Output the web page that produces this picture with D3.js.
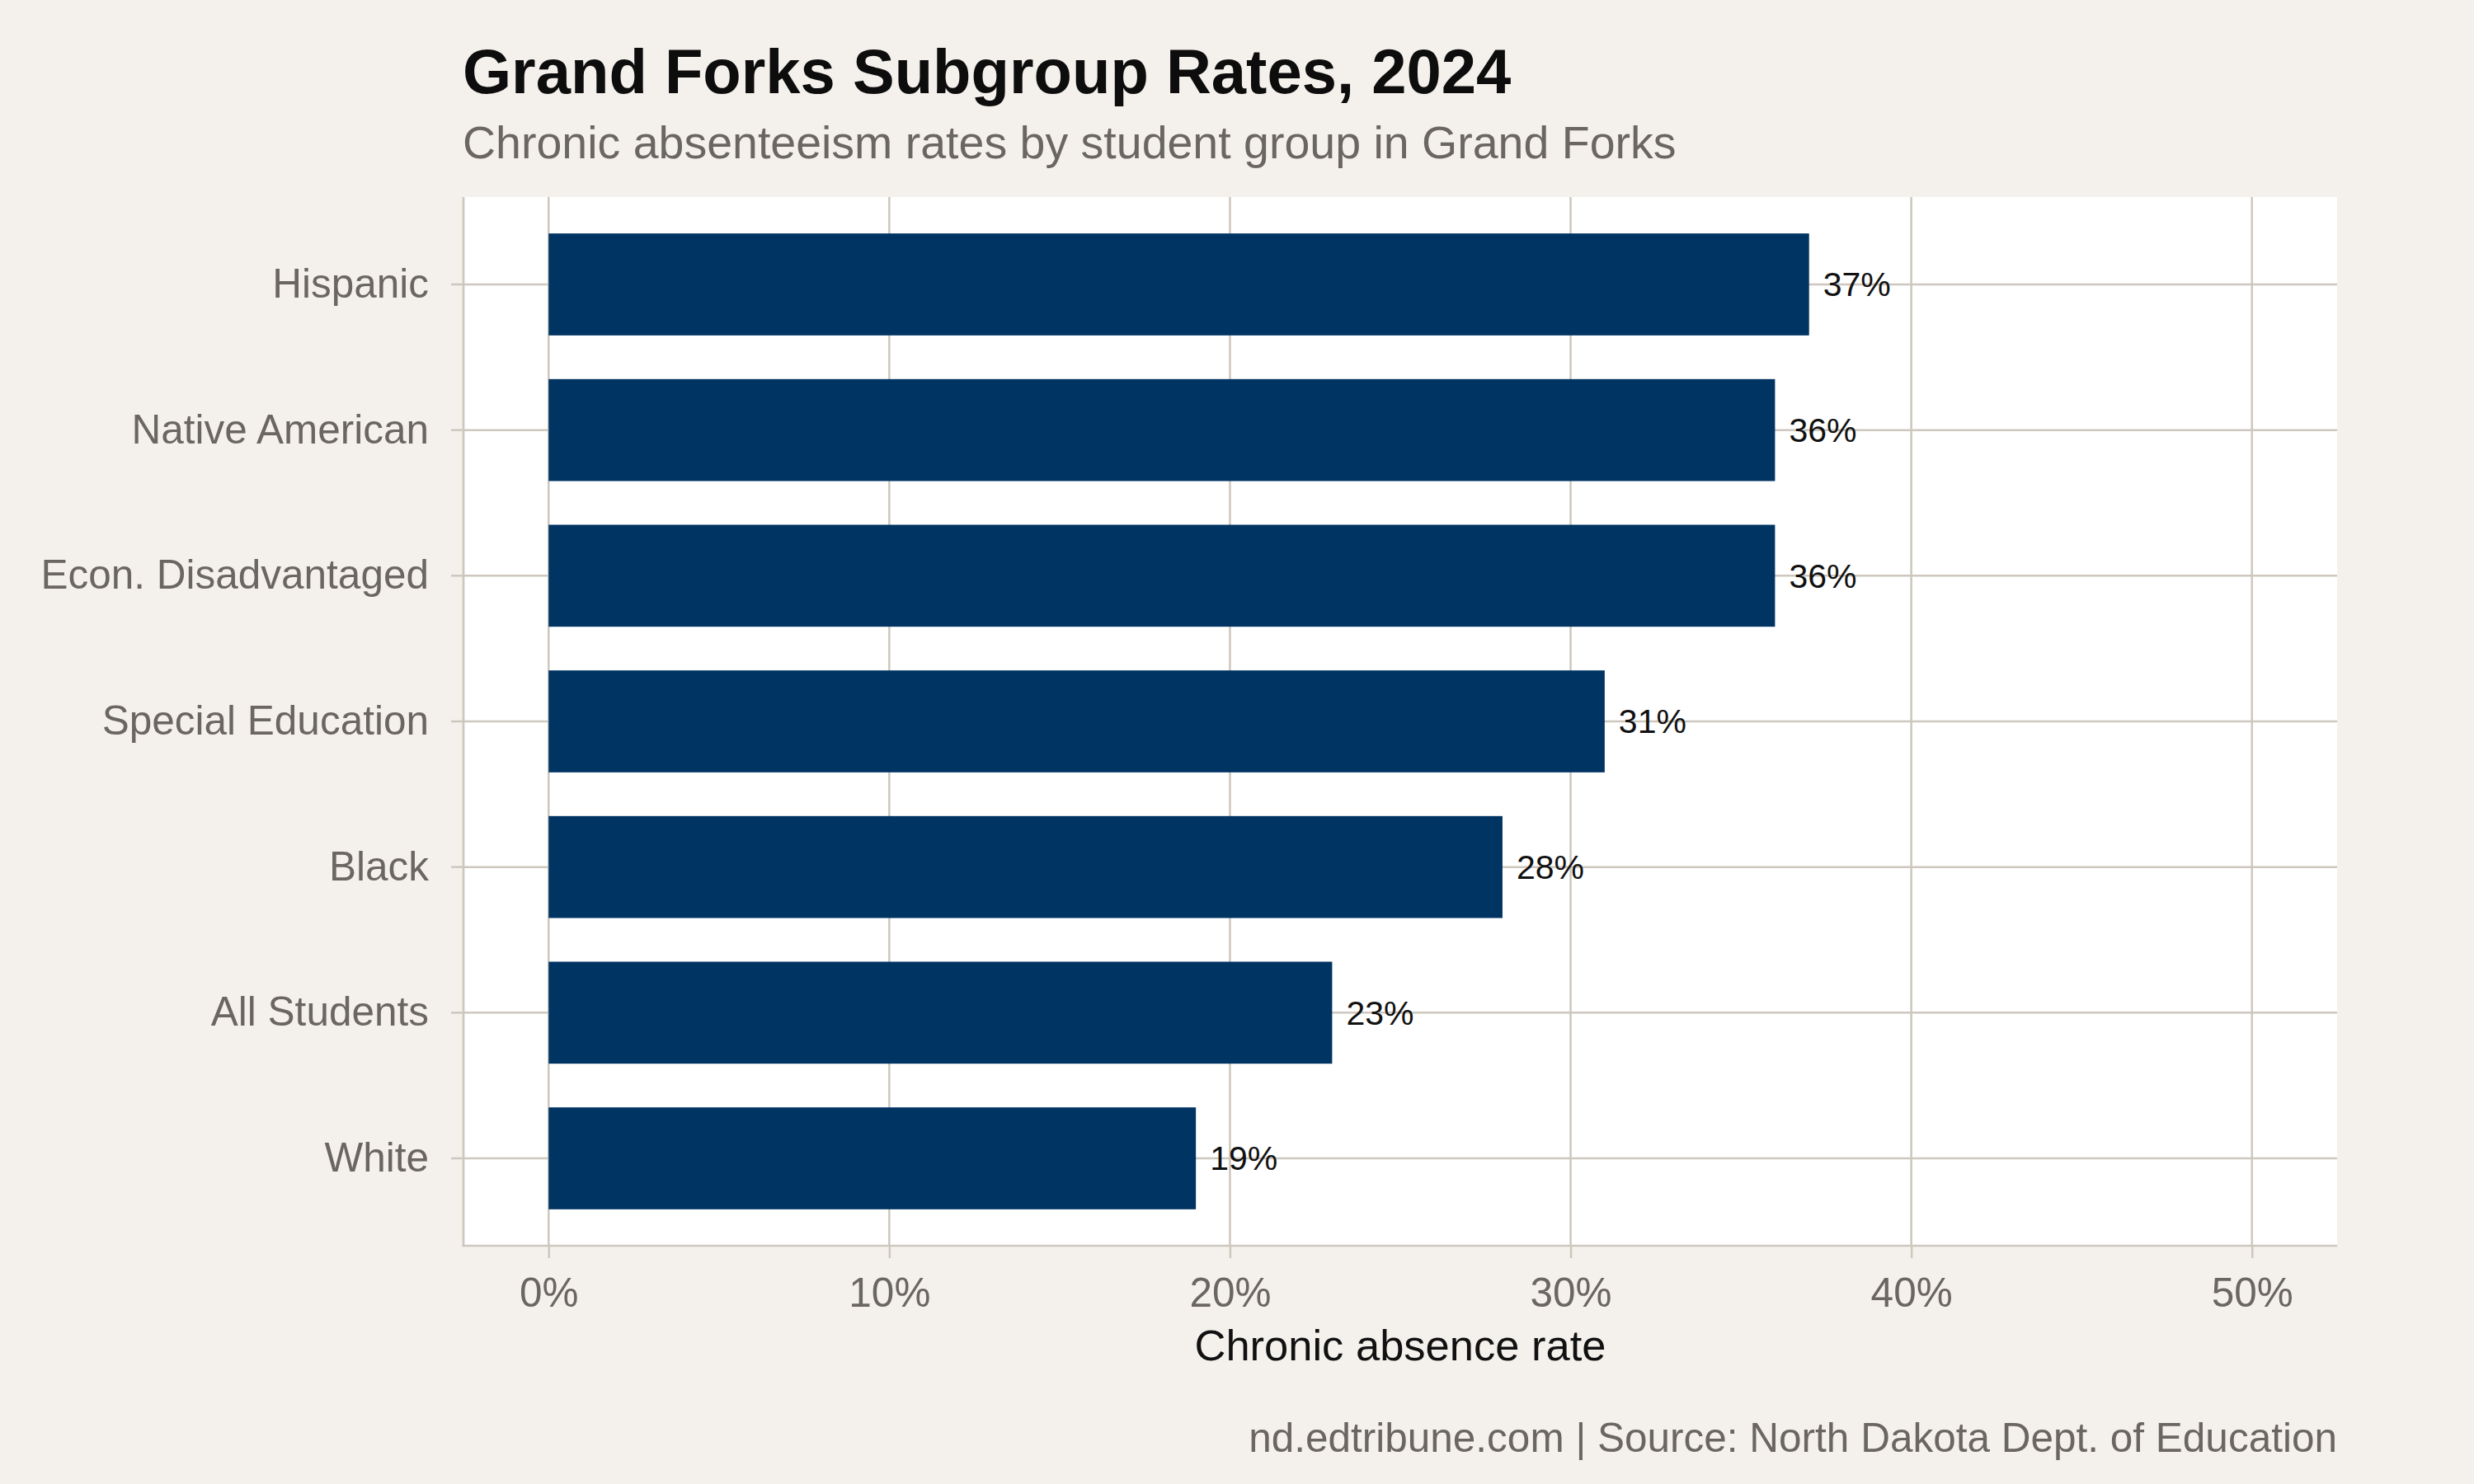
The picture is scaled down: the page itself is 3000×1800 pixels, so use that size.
<!DOCTYPE html>
<html>
<head>
<meta charset="utf-8">
<script src="https://cdn.jsdelivr.net/npm/d3@7"></script>
<style>
  body { margin: 0; background: #f4f1ec; }
  text { font-family: "Liberation Sans", Arial, Helvetica, sans-serif; }
</style>
</head>
<body>
<div id="chart"></div>
<script>
// data
const groups = ["Hispanic", "Native American", "Econ. Disadvantaged", "Special Education", "Black", "All Students", "White"];
const rates = [37, 36, 36, 31, 28, 23, 19];
const xTicks = [0, 10, 20, 30, 40, 50];

const titleText = "Grand Forks Subgroup Rates, 2024";
const subtitleText = "Chronic absenteeism rates by student group in Grand Forks";
const xTitleText = "Chronic absence rate";
const captionText = "nd.edtribune.com | Source: North Dakota Dept. of Education";

const width = 3000, height = 1800;
const margin = { top: 239, right: 166, bottom: 289, left: 562 };
const innerW = width - margin.left - margin.right;
const innerH = height - margin.top - margin.bottom;

const gridColor = "#cdc7be";
const greyText = "#6b6661";

const svg = d3.select("#chart").append("svg")
    .attr("width", width)
    .attr("height", height);

svg.append("rect")
    .attr("width", width)
    .attr("height", height)
    .attr("fill", "#f4f1ec");

const g = svg.append("g")
    .attr("transform", `translate(${margin.left},${margin.top})`);

// scales (ggplot style expansion: 5% on x, 0.6 units on discrete y)
const x = d3.scaleLinear()
    .domain([-2.5, 52.5])
    .range([0, innerW]);

const y = d3.scaleBand()
    .domain(groups)
    .range([0, innerH])
    .paddingInner(0.3)
    .paddingOuter(0.25);

// panel
g.append("rect")
    .attr("width", innerW)
    .attr("height", innerH)
    .attr("fill", "#ffffff");

// gridlines
g.append("g")
    .selectAll("line")
    .data(xTicks)
    .enter().append("line")
    .attr("x1", d => x(d))
    .attr("x2", d => x(d))
    .attr("y1", 0)
    .attr("y2", innerH)
    .attr("stroke", gridColor)
    .attr("stroke-width", 2.5);

g.append("g")
    .selectAll("line")
    .data(groups)
    .enter().append("line")
    .attr("x1", 0)
    .attr("x2", innerW)
    .attr("y1", d => y(d) + y.bandwidth() / 2)
    .attr("y2", d => y(d) + y.bandwidth() / 2)
    .attr("stroke", gridColor)
    .attr("stroke-width", 2.5);

// bars
g.append("g")
    .selectAll("rect")
    .data(groups)
    .enter().append("rect")
    .attr("x", x(0))
    .attr("y", d => y(d))
    .attr("width", (d, i) => x(rates[i]) - x(0))
    .attr("height", y.bandwidth())
    .attr("fill", "#003463");

// value labels
g.append("g")
    .selectAll("text")
    .data(groups)
    .enter().append("text")
    .attr("x", (d, i) => x(rates[i]) + 17)
    .attr("y", d => y(d) + y.bandwidth() / 2)
    .attr("dy", "0.35em")
    .attr("font-size", 41)
    .attr("fill", "#111111")
    .text((d, i) => rates[i] + "%");

// axes
const xAxis = g.append("g")
    .attr("transform", `translate(0,${innerH})`)
    .call(d3.axisBottom(x).tickValues(xTicks).tickFormat(d => d + "%").tickSize(15).tickPadding(24));

const yAxis = g.append("g")
    .call(d3.axisLeft(y).tickSize(15).tickPadding(27));

[xAxis, yAxis].forEach(ax => {
    ax.select(".domain").remove();
    ax.selectAll(".tick line").attr("stroke", gridColor).attr("stroke-width", 2.5);
    ax.selectAll(".tick text")
        .attr("font-size", 49.5)
        .attr("fill", greyText)
        .style("font-family", '"Liberation Sans", Arial, Helvetica, sans-serif');
});

xAxis.selectAll(".tick text").attr("dy", "0.71em");

// axis lines on left and bottom
g.append("line")
    .attr("x1", 0).attr("x2", 0)
    .attr("y1", 0).attr("y2", innerH + 1.3)
    .attr("stroke", gridColor)
    .attr("stroke-width", 2.7);

g.append("line")
    .attr("x1", -1.3).attr("x2", innerW)
    .attr("y1", innerH).attr("y2", innerH)
    .attr("stroke", gridColor)
    .attr("stroke-width", 2.7);

// titles
svg.append("text")
    .attr("x", 561)
    .attr("y", 113)
    .attr("font-size", 76)
    .attr("font-weight", "bold")
    .attr("fill", "#0d0d0d")
    .text(titleText);

svg.append("text")
    .attr("x", 561)
    .attr("y", 192)
    .attr("font-size", 55.5)
    .attr("fill", greyText)
    .text(subtitleText);

svg.append("text")
    .attr("x", margin.left + innerW / 2)
    .attr("y", 1650)
    .attr("text-anchor", "middle")
    .attr("font-size", 52.5)
    .attr("fill", "#111111")
    .text(xTitleText);

svg.append("text")
    .attr("x", margin.left + innerW)
    .attr("y", 1761)
    .attr("text-anchor", "end")
    .attr("font-size", 49.5)
    .attr("fill", greyText)
    .text(captionText);
</script>
</body>
</html>
